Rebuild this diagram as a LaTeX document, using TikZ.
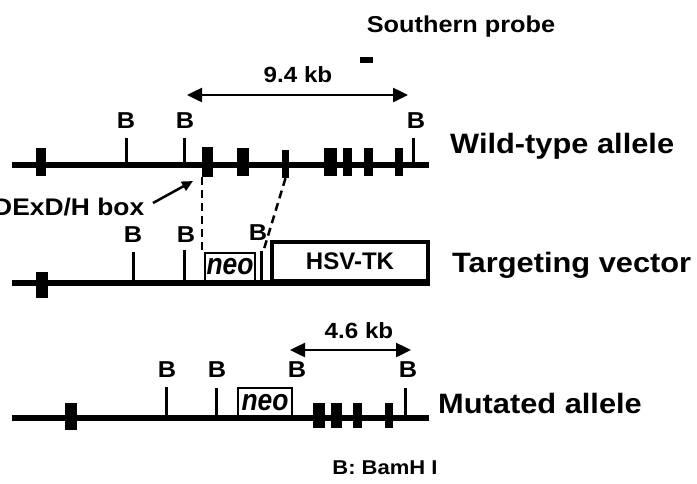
\documentclass[tikz,border=0pt]{standalone}
\usepackage{graphicx}
\usepackage{fontspec}
\setmainfont{Liberation Sans}
\usetikzlibrary{arrows.meta}
\newcommand{\widen}[1]{\scalebox{1.1}[1]{#1}}
\begin{document}
\begin{tikzpicture}[x=1pt,y=-1pt,
  dna/.style={line width=6pt},
  exon/.style={fill=black,draw=none,inner sep=0pt},
  tickline/.style={line width=3pt},
  blab/.style={font=\fontsize{23}{23}\selectfont\bfseries,inner sep=0pt,anchor=base},
  big/.style={font=\fontsize{28}{28}\selectfont\bfseries,inner sep=0pt,anchor=base west},
  kblab/.style={font=\fontsize{22}{22}\selectfont\bfseries,inner sep=0pt,anchor=base},
  dbl/.style={line width=2.5pt,{Triangle[length=15pt,width=14pt]}-{Triangle[length=15pt,width=14pt]}},
  dsh/.style={line width=2.5pt,dash pattern=on 8pt off 5pt},
  ptr/.style={line width=2.5pt,-{Triangle[length=11pt,width=10pt]}},
  neobox/.style={draw,line width=2.2pt,inner sep=0pt,font=\fontsize{24}{24}\selectfont\bfseries\itshape}
]
\useasboundingbox (0,0) rectangle (697,483);
\clip (0,0) rectangle (697,483);

% title and probe
\node[font=\fontsize{23}{23}\selectfont\bfseries,inner sep=0pt,anchor=base] (title) at (461,32) {\widen{Southern probe}};
\node[exon,minimum width=13pt,minimum height=6pt] (probe) at (366.5,60) {};

% ---------- Wild-type allele ----------
\coordinate (wl) at (12,165);
\coordinate (wr) at (429,165);
\draw[dna] (wl) -- (wr);
\node[exon,minimum width=10pt,minimum height=28pt] (w1) at (41,162) {};
\node[exon,minimum width=11pt,minimum height=30pt] (w2) at (207.5,162) {};
\node[exon,minimum width=12pt,minimum height=28pt] (w3) at (243,162) {};
\node[exon,minimum width=7pt,minimum height=28pt] (w4) at (285.5,164) {};
\node[exon,minimum width=13pt,minimum height=28pt] (w5) at (330.5,162) {};
\node[exon,minimum width=9pt,minimum height=28pt] (w6) at (347.5,162) {};
\node[exon,minimum width=9pt,minimum height=28pt] (w7) at (368.5,162) {};
\node[exon,minimum width=8pt,minimum height=28pt] (w8) at (399,162) {};
\coordinate (wt1a) at (126,138); \coordinate (wt1b) at (126,165);
\coordinate (wt2a) at (184,138); \coordinate (wt2b) at (184,165);
\coordinate (wt3a) at (413,138); \coordinate (wt3b) at (413,165);
\draw[tickline] (wt1a) -- (wt1b);
\draw[tickline] (wt2a) -- (wt2b);
\draw[tickline] (wt3a) -- (wt3b);
\node[blab] (wb1) at (126,128) {\widen{B}};
\node[blab] (wb2) at (185,128) {\widen{B}};
\node[blab] (wb3) at (416,128) {\widen{B}};
\coordinate (k9l) at (187,95);
\coordinate (k9r) at (408,95);
\draw[dbl] (k9l) -- (k9r);
\node[kblab] (k9) at (298,82) {\widen{9.4 kb}};
\node[big] (wtlab) at (450,153) {\widen{Wild-type allele}};

% DExD/H box pointer
\node[font=\fontsize{24}{24}\selectfont\bfseries,inner sep=0pt,anchor=base west] (dexd) at (-7,215) {\widen{DExD/H box}};
\coordinate (dtail) at (153,203);
\coordinate (dtip) at (193,181);
\draw[ptr] (dtail) -- (dtip);

% ---------- Targeting vector ----------
\coordinate (tl) at (12,283);
\coordinate (tr) at (430,283);
\draw[dna] (tl) -- (tr);
\node[exon,minimum width=12pt,minimum height=26pt] (t1) at (42,285) {};
\node[neobox,minimum width=50pt,minimum height=28pt] (tneo) at (230,267) {\scalebox{1.1}[1.25]{neo}};
\node[draw,line width=4.5pt,inner sep=0pt,minimum width=156pt,minimum height=39pt,
      font=\fontsize{24}{24}\selectfont\bfseries] (hsv) at (350,261.5) {HSV-TK};
\coordinate (tt1a) at (133,252); \coordinate (tt1b) at (133,283);
\coordinate (tt2a) at (184,250); \coordinate (tt2b) at (184,283);
\coordinate (tt3a) at (261,251); \coordinate (tt3b) at (261,283);
\draw[tickline] (tt1a) -- (tt1b);
\draw[tickline] (tt2a) -- (tt2b);
\draw[tickline] (tt3a) -- (tt3b);
\node[blab] (tb1) at (133,242) {\widen{B}};
\node[blab] (tb2) at (186,242) {\widen{B}};
\node[blab] (tb3) at (258,240) {\widen{B}};
\node[big] (tvlab) at (452,272) {\widen{Targeting vector}};

% dashed homology lines
\draw[dsh] (w2.south west) -- (w2.south west |- tneo.north);
\coordinate (dend) at (264,249);
\draw[dsh] (w4.south) -- (dend);

% ---------- Mutated allele ----------
\coordinate (ml) at (12,418);
\coordinate (mr) at (429,418);
\draw[dna] (ml) -- (mr);
\node[exon,minimum width=12pt,minimum height=27pt] (m1) at (71,416.5) {};
\node[exon,minimum width=12pt,minimum height=25pt] (m2) at (319,415.5) {};
\node[exon,minimum width=11pt,minimum height=25pt] (m3) at (336.5,415.5) {};
\node[exon,minimum width=9pt,minimum height=25pt] (m4) at (357.5,415.5) {};
\node[exon,minimum width=8pt,minimum height=25pt] (m5) at (389,415.5) {};
\node[neobox,line width=2.5pt,minimum width=54pt,minimum height=29pt] (mneo) at (265,402.5) {\scalebox{1.1}[1.25]{neo}};
\coordinate (mt1a) at (166,387); \coordinate (mt1b) at (166,418);
\coordinate (mt2a) at (216,388); \coordinate (mt2b) at (216,418);
\coordinate (mt3a) at (405,388); \coordinate (mt3b) at (405,418);
\draw[tickline] (mt1a) -- (mt1b);
\draw[tickline] (mt2a) -- (mt2b);
\draw[tickline] (mt3a) -- (mt3b);
\node[blab] (mb1) at (167,377) {\widen{B}};
\node[blab] (mb2) at (217,377) {\widen{B}};
\node[blab] (mb3) at (297,377) {\widen{B}};
\node[blab] (mb4) at (408,377) {\widen{B}};
\coordinate (k4l) at (290,350);
\coordinate (k4r) at (411,350);
\draw[dbl] (k4l) -- (k4r);
\node[kblab] (k4) at (359,338) {\widen{4.6 kb}};
\node[big] (mlab) at (438,413) {\widen{Mutated allele}};

% legend
\node[font=\fontsize{20}{20}\selectfont\bfseries,inner sep=0pt,anchor=base] (legend) at (385,474) {\widen{B: BamH I}};
\end{tikzpicture}
\end{document}
